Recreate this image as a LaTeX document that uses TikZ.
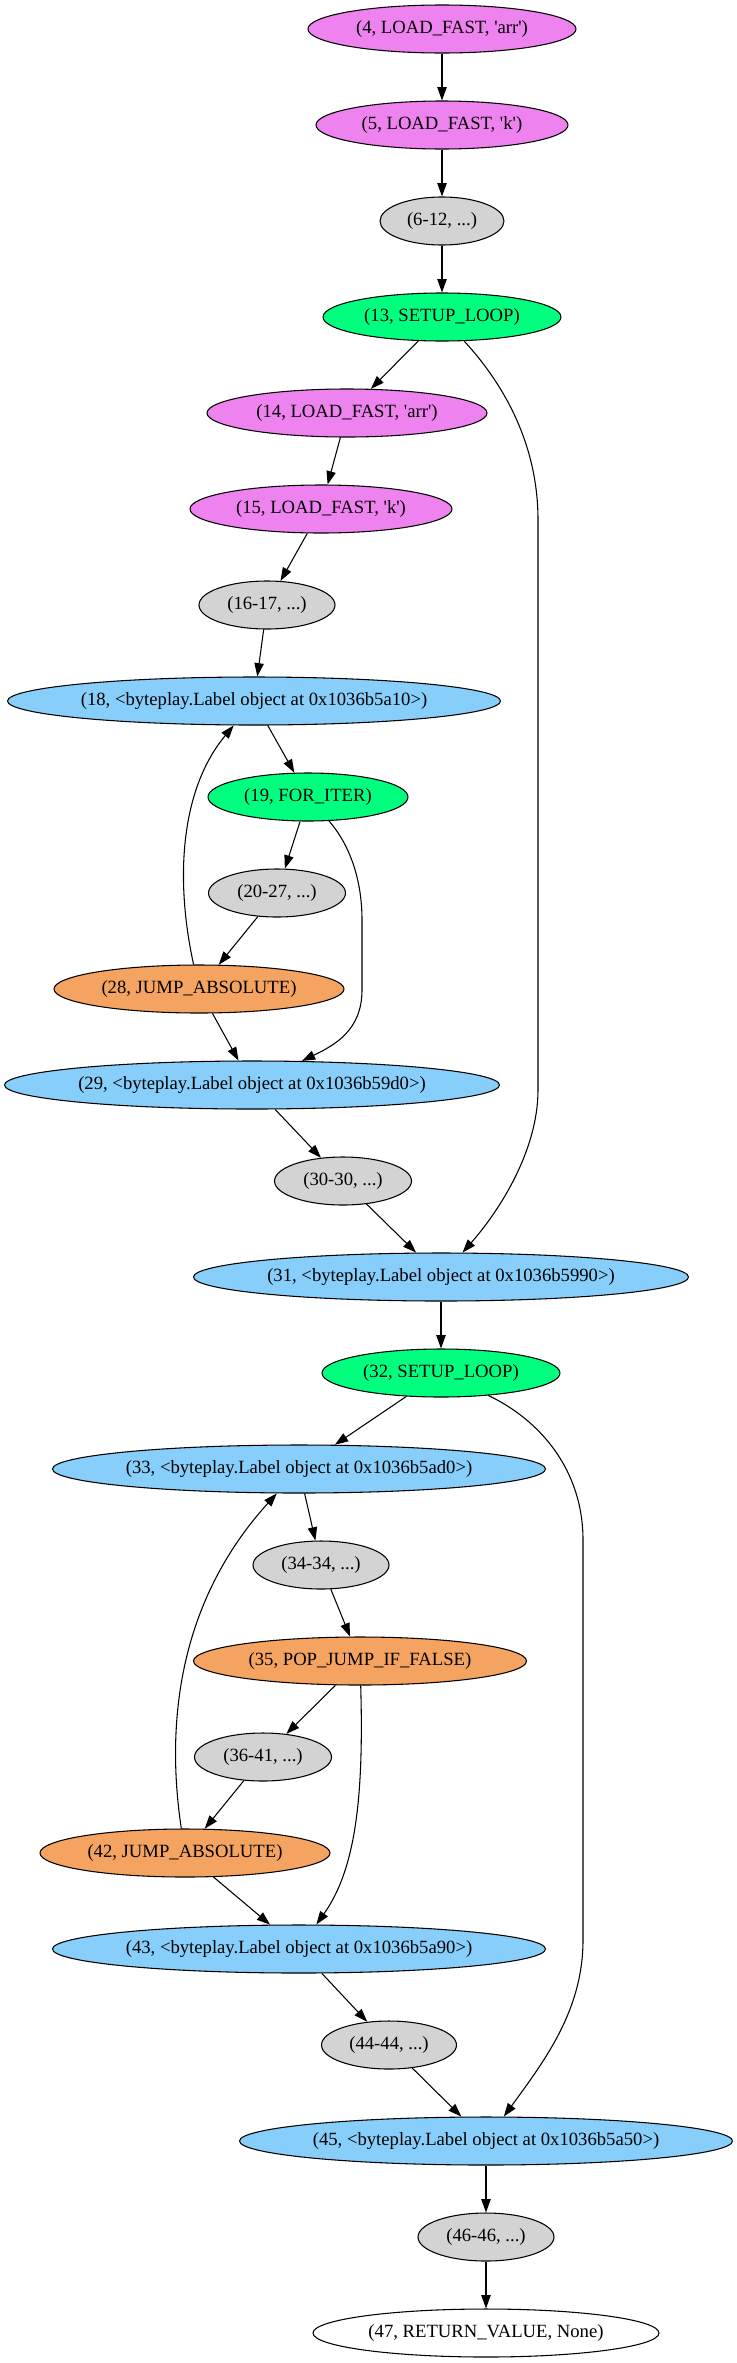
\documentclass[tikz,border=0pt]{standalone}
\usepackage{fontspec}
\setmainfont{Liberation Serif}
\usetikzlibrary{shapes.geometric,arrows.meta}
\definecolor{gviolet}{HTML}{EE82EE}
\definecolor{gspring}{HTML}{00FF7F}
\definecolor{ggray}{HTML}{D3D3D3}
\definecolor{gsandy}{HTML}{F4A460}
\definecolor{gsky}{HTML}{87CEFA}
\newcommand{\sq}{\textquotesingle}
\tikzset{
  gnode/.style={ellipse, draw=black, line width=0.8pt, minimum height=36pt, inner sep=0pt,
    font=\fontsize{14}{16}\selectfont},
  nw/.style={minimum width=#1*0.75pt},
  vio/.style={gnode, fill=gviolet},
  grn/.style={gnode, fill=gspring},
  gry/.style={gnode, fill=ggray},
  snd/.style={gnode, fill=gsandy},
  sky/.style={gnode, fill=gsky},
  wht/.style={gnode, fill=white},
  garrow/.style={draw, line width=0.8pt, -{Triangle[length=10pt,width=7pt]}},
}
\begin{document}
\begin{tikzpicture}[x=0.75pt,y=-0.75pt]
\useasboundingbox (0,0) rectangle (736,2363);
\node[vio,nw=268] (n4)  at (442,29)   {(4, LOAD\_FAST, \sq arr\sq)};
\node[vio,nw=252] (n5)  at (442,125)  {(5, LOAD\_FAST, \sq k\sq)};
\node[gry,nw=124] (n6)  at (442,221)  {(6-12, ...)};
\node[grn,nw=238] (n13) at (442,317)  {(13, SETUP\_LOOP)};
\node[vio,nw=280] (n14) at (347,413)  {(14, LOAD\_FAST, \sq arr\sq)};
\node[vio,nw=262] (n15) at (321,509)  {(15, LOAD\_FAST, \sq k\sq)};
\node[gry,nw=136] (n16) at (267,605)  {(16-17, ...)};
\node[sky,nw=493] (n18) at (254,701)  {(18, <byteplay.Label object at 0x1036b5a10>)};
\node[grn,nw=200] (n19) at (308,797)  {(19, FOR\_ITER)};
\node[gry,nw=137] (n20) at (277,893)  {(20-27, ...)};
\node[snd,nw=290] (n28) at (199,989)  {(28, JUMP\_ABSOLUTE)};
\node[sky,nw=495] (n29) at (252,1085) {(29, <byteplay.Label object at 0x1036b59d0>)};
\node[gry,nw=137] (n30) at (343,1181) {(30-30, ...)};
\node[sky,nw=495] (n31) at (441,1277) {(31, <byteplay.Label object at 0x1036b5990>)};
\node[grn,nw=238] (n32) at (441,1373) {(32, SETUP\_LOOP)};
\node[sky,nw=493] (n33) at (299,1469) {(33, <byteplay.Label object at 0x1036b5ad0>)};
\node[gry,nw=136] (n34) at (321,1565) {(34-34, ...)};
\node[snd,nw=333] (n35) at (360,1661) {(35, POP\_JUMP\_IF\_FALSE)};
\node[gry,nw=137] (n36) at (263,1757) {(36-41, ...)};
\node[snd,nw=290] (n42) at (185,1853) {(42, JUMP\_ABSOLUTE)};
\node[sky,nw=493] (n43) at (299,1949) {(43, <byteplay.Label object at 0x1036b5a90>)};
\node[gry,nw=135] (n44) at (389,2045) {(44-44, ...)};
\node[sky,nw=493] (n45) at (486,2141) {(45, <byteplay.Label object at 0x1036b5a50>)};
\node[gry,nw=136] (n46) at (486,2237) {(46-46, ...)};
\node[wht,nw=346] (n47) at (486,2333) {(47, RETURN\_VALUE, None)};
% straight edges
\draw[garrow] (n4) -- (n5);
\draw[garrow] (n5) -- (n6);
\draw[garrow] (n6) -- (n13);
\draw[garrow] (n13) -- (n14);
\draw[garrow] (n14) -- (n15);
\draw[garrow] (n15) -- (n16);
\draw[garrow] (n16) -- (n18);
\draw[garrow] (n18) -- (n19);
\draw[garrow] (n19) -- (n20);
\draw[garrow] (n20) -- (n28);
\draw[garrow] (n28) -- (n29);
\draw[garrow] (n29) -- (n30);
\draw[garrow] (n30) -- (n31);
\draw[garrow] (n31) -- (n32);
\draw[garrow] (n32) -- (n33);
\draw[garrow] (n33) -- (n34);
\draw[garrow] (n34) -- (n35);
\draw[garrow] (n35) -- (n36);
\draw[garrow] (n36) -- (n42);
\draw[garrow] (n42) -- (n43);
\draw[garrow] (n43) -- (n44);
\draw[garrow] (n44) -- (n45);
\draw[garrow] (n45) -- (n46);
\draw[garrow] (n46) -- (n47);
% curved edges
\draw[garrow] (n13) .. controls (500,380) and (538,440) .. (538,520) -- (538,1090)
  .. controls (538,1150) and (500,1210) .. (n31);
\draw[garrow] (n19) .. controls (350,845) and (362,880) .. (362,920) -- (362,990)
  .. controls (362,1030) and (335,1045) .. (n29);
\draw[garrow] (n28) .. controls (175,880) and (180,790) .. (n18);
\draw[garrow] (n32) .. controls (540,1420) and (583,1470) .. (583,1540) -- (583,1940)
  .. controls (583,2010) and (545,2060) .. (n45);
\draw[garrow] (n35) .. controls (364,1800) and (355,1870) .. (n43);
\draw[garrow] (n42) .. controls (165,1720) and (180,1600) .. (n33);
\end{tikzpicture}
\end{document}
